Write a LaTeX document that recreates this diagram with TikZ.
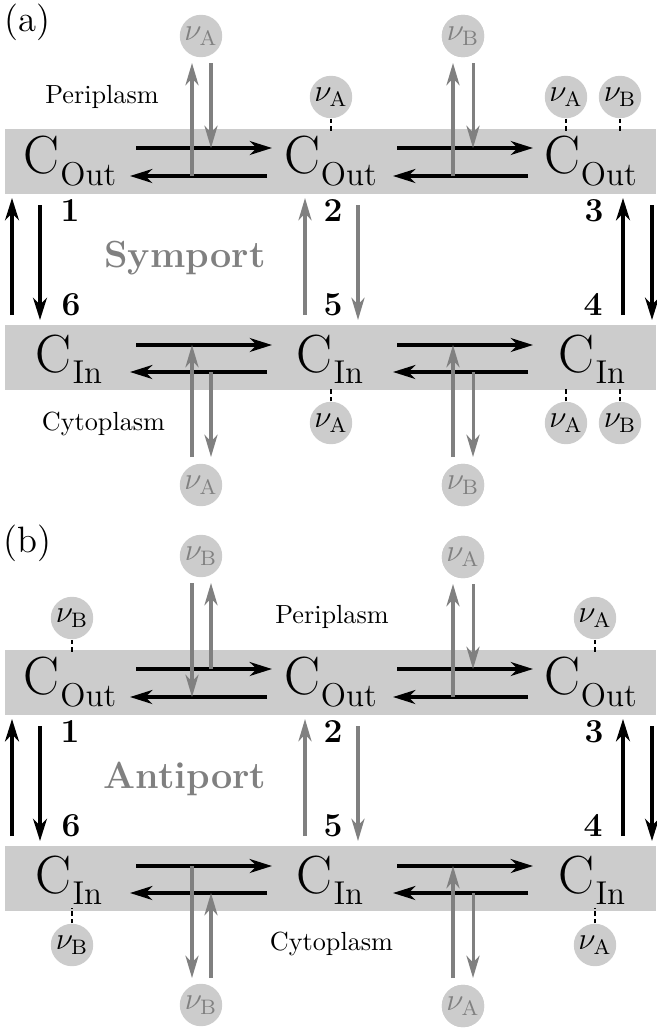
\RequirePackage{fix-cm}
\documentclass[tikz,border=0pt]{standalone}
\usepackage{fontspec}
\usetikzlibrary{arrows.meta}
\definecolor{bandgray}{gray}{0.8}
\definecolor{circgray}{gray}{0.8}
\definecolor{arrgray}{gray}{0.5}
\newcommand\StateOut{{\fontsize{20.5}{21}\selectfont C\kern0.3pt\raisebox{-4.6pt}{\fontsize{12.6}{13}\selectfont Out}}}
\newcommand\StateIn{{\fontsize{20.5}{21}\selectfont C\kern0.3pt\raisebox{-4.3pt}{\fontsize{12.6}{13}\selectfont In}}}
\tikzset{
  bk/.style={-{Stealth[length=8.5pt,width=5.3pt,inset=2.6pt]}, line width=1.3pt, black},
  gr/.style={-{Stealth[length=8.5pt,width=5pt,inset=2.6pt]}, line width=1.15pt, arrgray},
  nu/.style={circle, fill=circgray, minimum size=16.2pt, inner sep=0pt, font=\fontsize{12}{12}\selectfont},
  nufree/.style={nu, text=arrgray},
  bond/.style={dash pattern=on 1.8pt off 1pt, line width=1.05pt, black},
  statenode/.style={anchor=base, inner sep=0pt},
  num/.style={anchor=base, inner sep=0pt, font=\fontsize{12.8}{13}\selectfont\bfseries},
  region/.style={anchor=base, inner sep=0pt, font=\fontsize{10}{12}\selectfont},
  mode/.style={anchor=base, inner sep=0pt, text=arrgray, font=\fontsize{14.4}{16}\selectfont\bfseries},
  panellab/.style={inner sep=0pt, font=\fontsize{14}{15}\selectfont}
}
% common part of one panel: #1 = name prefix
\newcommand\PanelCommon[1]{%
  \fill[bandgray] (5,129) rectangle (656,194);
  \fill[bandgray] (5,325) rectangle (656,390);
  \node[statenode] (#1o1) at (70,173) {\StateOut};
  \node[statenode] (#1o2) at (330.5,173) {\StateOut};
  \node[statenode] (#1o3) at (590.5,173) {\StateOut};
  \node[statenode] (#1i1) at (69,372) {\StateIn};
  \node[statenode] (#1i2) at (330,372) {\StateIn};
  \node[statenode] (#1i3) at (592,372) {\StateIn};
  % horizontal transitions
  \coordinate (#1h1) at (136,148); \coordinate (#1h2) at (272,148);
  \coordinate (#1h3) at (267,176); \coordinate (#1h4) at (130,176);
  \coordinate (#1h5) at (397,148); \coordinate (#1h6) at (533,148);
  \coordinate (#1h7) at (528,176); \coordinate (#1h8) at (393,176);
  \draw[bk] (#1h1) -- (#1h2);
  \draw[bk] (#1h3) -- (#1h4);
  \draw[bk] (#1h5) -- (#1h6);
  \draw[bk] (#1h7) -- (#1h8);
  \coordinate (#1k1) at (136,345); \coordinate (#1k2) at (272,345);
  \coordinate (#1k3) at (267,372); \coordinate (#1k4) at (130,372);
  \coordinate (#1k5) at (397,345); \coordinate (#1k6) at (533,345);
  \coordinate (#1k7) at (528,372); \coordinate (#1k8) at (393,372);
  \draw[bk] (#1k1) -- (#1k2);
  \draw[bk] (#1k3) -- (#1k4);
  \draw[bk] (#1k5) -- (#1k6);
  \draw[bk] (#1k7) -- (#1k8);
  % vertical transitions
  \coordinate (#1v1) at (12,315); \coordinate (#1v2) at (12,198);
  \coordinate (#1v3) at (40,205); \coordinate (#1v4) at (40,320);
  \coordinate (#1v5) at (305,315); \coordinate (#1v6) at (305,198);
  \coordinate (#1v7) at (358,205); \coordinate (#1v8) at (358,320);
  \coordinate (#1v9) at (623,315); \coordinate (#1v10) at (623,198);
  \coordinate (#1v11) at (652,205); \coordinate (#1v12) at (652,320);
  \draw[bk] (#1v1) -- (#1v2);
  \draw[bk] (#1v3) -- (#1v4);
  \draw[gr] (#1v5) -- (#1v6);
  \draw[gr] (#1v7) -- (#1v8);
  \draw[bk] (#1v9) -- (#1v10);
  \draw[bk] (#1v11) -- (#1v12);
  \node[num] (#1n1) at (70,221) {1};
  \node[num] (#1n2) at (333,221) {2};
  \node[num] (#1n3) at (594,221) {3};
  \node[num] (#1n6) at (71,315) {6};
  \node[num] (#1n5) at (333,315) {5};
  \node[num] (#1n4) at (593,315) {4};
  % right-hand gray exchanges (same in both panels)
  \node[nufree] (#1fTR) at (463,36) {};
  \node[nufree] (#1fBR) at (463,485) {};
  \draw[gr] (#1h7 -| 453,0) -- (453,63);
  \draw[gr] (473,63) -- (#1h5 -| 473,0);
  \draw[gr] (453,457) -- (#1k5 -| 453,0);
  \draw[gr] (#1k7 -| 473,0) -- (473,457);
}
\begin{document}
\begin{tikzpicture}[x=0.3817pt,y=-0.3817pt]
\useasboundingbox (0,0) rectangle (656,1029);
% ---------------- panel (a) ----------------
\begin{scope}
\PanelCommon{a}
\node[panellab] (alab) at (27.5,22) {(a)};
\node[region] (aperi) at (102,103) {Periplasm};
\node[region] (acyto) at (103.5,430) {Cytoplasm};
\node[mode] (amode) at (185,267) {Symport};
\node[nufree] (afTL) at (201,36) {$\nu_{\mathrm{A}}$};
\node[nufree] (afBL) at (201,485) {$\nu_{\mathrm{A}}$};
\node[nufree] at (afTR) {$\nu_{\mathrm{B}}$};
\node[nufree] at (afBR) {$\nu_{\mathrm{B}}$};
\draw[gr] (ah3 -| 192,0) -- (192,63);
\draw[gr] (211,63) -- (ah1 -| 211,0);
\draw[gr] (192,457) -- (ak1 -| 192,0);
\draw[gr] (ak3 -| 211,0) -- (211,457);
% bound ligands
\node[nu] (ab1) at (331,97) {$\nu_{\mathrm{A}}$};
\node[nu] (ab2) at (566,97) {$\nu_{\mathrm{A}}$};
\node[nu] (ab3) at (620,97) {$\nu_{\mathrm{B}}$};
\node[nu] (ab4) at (331,423) {$\nu_{\mathrm{A}}$};
\node[nu] (ab5) at (566,423) {$\nu_{\mathrm{A}}$};
\node[nu] (ab6) at (620,423) {$\nu_{\mathrm{B}}$};
\foreach \n in {ab1,ab2,ab3} \draw[bond] (\n.south) -- (\n.south |- 0,132);
\foreach \n in {ab4,ab5,ab6} \draw[bond] (\n.north) -- (\n.north |- 0,387);
\end{scope}
% ---------------- panel (b) ----------------
\begin{scope}[shift={(0,521)}]
\PanelCommon{b}
\node[panellab] (blab) at (27.5,22) {(b)};
\node[region] (bperi) at (332,102) {Periplasm};
\node[region] (bcyto) at (331.5,429) {Cytoplasm};
\node[mode] (bmode) at (185,267) {Antiport};
\node[nufree] (bfTL) at (201,35) {$\nu_{\mathrm{B}}$};
\node[nufree] (bfBL) at (201,484) {$\nu_{\mathrm{B}}$};
\node[nufree] at (bfTR) {$\nu_{\mathrm{A}}$};
\node[nufree] at (bfBR) {$\nu_{\mathrm{A}}$};
\draw[gr] (192,62) -- (bh3 -| 192,0);
\draw[gr] (bh1 -| 211,0) -- (211,62);
\draw[gr] (bk1 -| 192,0) -- (192,457);
\draw[gr] (211,457) -- (bk3 -| 211,0);
\node[nu] (bb1) at (72,97) {$\nu_{\mathrm{B}}$};
\node[nu] (bb2) at (595,97) {$\nu_{\mathrm{A}}$};
\node[nu] (bb3) at (72,424) {$\nu_{\mathrm{B}}$};
\node[nu] (bb4) at (595,424) {$\nu_{\mathrm{A}}$};
\foreach \n in {bb1,bb2} \draw[bond] (\n.south) -- (\n.south |- 0,132);
\foreach \n in {bb3,bb4} \draw[bond] (\n.north) -- (\n.north |- 0,387);
\end{scope}
\end{tikzpicture}
\end{document}
